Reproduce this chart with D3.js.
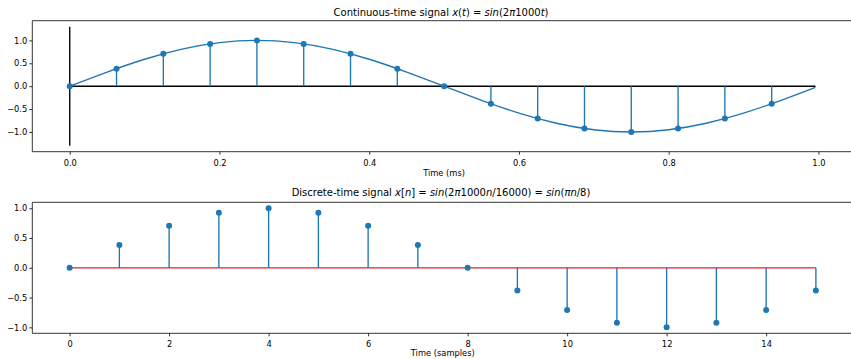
<!DOCTYPE html>
<html><head><meta charset="utf-8">
<script src="https://cdn.jsdelivr.net/npm/d3@7"></script>
<style>
body{margin:0;background:#fff;}
text{font-family:"DejaVu Sans",sans-serif;}
</style></head>
<body><svg id="c" width="851" height="359"></svg>
<script>
// Continuous curve (time in ms, amplitude)
const curveT = [0,0.05,0.1,0.15,0.2,0.25,0.3,0.35,0.4,0.45,0.5,0.55,0.6,0.65,0.7,0.75,0.8,0.85,0.9,0.95,0.996];
const curveV = [0,0.309,0.588,0.809,0.951,1.0,0.951,0.809,0.588,0.309,0,-0.309,-0.588,-0.809,-0.951,-1.0,-0.951,-0.809,-0.588,-0.309,-0.025];
// Sampled points
const sampleN = [0,1,2,3,4,5,6,7,8,9,10,11,12,13,14,15];
const sampleT = [0,0.0625,0.125,0.1875,0.25,0.3125,0.375,0.4375,0.5,0.5625,0.625,0.6875,0.75,0.8125,0.875,0.9375];
const sampleV = [0,0.383,0.707,0.924,1.0,0.924,0.707,0.383,0,-0.383,-0.707,-0.924,-1.0,-0.924,-0.707,-0.383];
const topXTicks = [0,0.2,0.4,0.6,0.8,1.0];
const yTicks = [-1.0,-0.5,0.0,0.5,1.0];
const botXTicks = [0,2,4,6,8,10,12,14];
const vLineY = [-1.3,1.3];

const svg = d3.select("#c");
const blue = "#1f77b4";
const fs = "8.3px";
const lw = 1.35;
const mr = 3.0;

function frame(g, x0, y0, y1){
  g.append("line").attr("x1",x0).attr("x2",900).attr("y1",y0).attr("y2",y0).attr("stroke","#000").attr("stroke-width",0.8);
  g.append("line").attr("x1",x0).attr("x2",900).attr("y1",y1).attr("y2",y1).attr("stroke","#000").attr("stroke-width",0.8);
  g.append("line").attr("x1",x0).attr("x2",x0).attr("y1",y0).attr("y2",y1).attr("stroke","#000").attr("stroke-width",0.8);
}
function styleAxis(a){
  a.select(".domain").remove();
  a.selectAll(".tick line").attr("stroke","#000").attr("stroke-width",0.8);
  a.selectAll(".tick text").attr("fill","#000").style("font-size",fs).style("font-family","DejaVu Sans");
}

// ---------- Top panel ----------
const x1 = d3.scaleLinear().domain([-0.05,1.05]).range([32.3,855.9]);
const y1 = d3.scaleLinear().domain([-1.43,1.43]).range([151.7,20.7]);
const g1 = svg.append("g");
g1.append("line").attr("x1",x1(0)).attr("x2",x1(0)).attr("y1",y1(vLineY[0])).attr("y2",y1(vLineY[1])).attr("stroke","#000").attr("stroke-width",lw);
g1.append("line").attr("x1",x1(0)).attr("x2",x1(curveT[curveT.length-1])).attr("y1",y1(0)).attr("y2",y1(0)).attr("stroke","#000").attr("stroke-width",lw);
g1.append("path").datum(curveT.map((t,i)=>[t,curveV[i]]))
  .attr("d",d3.line().x(d=>x1(d[0])).y(d=>y1(d[1])).curve(d3.curveNatural))
  .attr("fill","none").attr("stroke",blue).attr("stroke-width",lw);
g1.selectAll(".st").data(sampleT).enter().append("line")
  .attr("x1",d=>x1(d)).attr("x2",d=>x1(d)).attr("y1",y1(0)).attr("y2",(d,i)=>y1(sampleV[i]))
  .attr("stroke",blue).attr("stroke-width",lw);
g1.selectAll(".mk").data(sampleT).enter().append("circle")
  .attr("cx",d=>x1(d)).attr("cy",(d,i)=>y1(sampleV[i])).attr("r",mr).attr("fill",blue);
frame(g1,32.3,20.7,151.7);
const ax1 = g1.append("g").attr("transform","translate(0,151.7)")
  .call(d3.axisBottom(x1).tickValues(topXTicks).tickFormat(d3.format(".1f")).tickSize(3).tickPadding(5));
styleAxis(ax1);
const ay1 = g1.append("g").attr("transform","translate(32.3,0)")
  .call(d3.axisLeft(y1).tickValues(yTicks).tickFormat(d3.format(".1f")).tickSize(3).tickPadding(2));
styleAxis(ay1);
g1.append("text").attr("x",x1(0.5)).attr("y",176).attr("text-anchor","middle").style("font-size",fs).text("Time (ms)");
const t1 = g1.append("text").attr("x",441).attr("y",16).attr("text-anchor","middle").style("font-size","10px");
t1.append("tspan").text("Continuous-time signal ");
t1.append("tspan").style("font-style","italic").text("x");
t1.append("tspan").text("(");
t1.append("tspan").style("font-style","italic").text("t");
t1.append("tspan").text(") = ");
t1.append("tspan").style("font-style","italic").text("sin");
t1.append("tspan").text("(2");
t1.append("tspan").style("font-style","italic").text("π");
t1.append("tspan").text("1000");
t1.append("tspan").style("font-style","italic").text("t");
t1.append("tspan").text(")");

// ---------- Bottom panel ----------
const x2 = d3.scaleLinear().domain([-0.75,15.75]).range([32.3,853.2]);
const y2 = d3.scaleLinear().domain([-1.1,1.1]).range([333.3,202.3]);
const g2 = svg.append("g");
g2.selectAll(".st").data(sampleN).enter().append("line")
  .attr("x1",d=>x2(d)).attr("x2",d=>x2(d)).attr("y1",y2(0)).attr("y2",(d,i)=>y2(sampleV[i]))
  .attr("stroke",blue).attr("stroke-width",lw);
g2.append("line").attr("x1",x2(sampleN[0])).attr("x2",x2(sampleN[sampleN.length-1])).attr("y1",y2(0)).attr("y2",y2(0))
  .attr("stroke","#d62728").attr("stroke-width",lw);
g2.selectAll(".mk").data(sampleN).enter().append("circle")
  .attr("cx",d=>x2(d)).attr("cy",(d,i)=>y2(sampleV[i])).attr("r",mr).attr("fill",blue);
frame(g2,32.3,202.3,333.3);
const ax2 = g2.append("g").attr("transform","translate(0,333.3)")
  .call(d3.axisBottom(x2).tickValues(botXTicks).tickFormat(d3.format("d")).tickSize(3).tickPadding(5));
styleAxis(ax2);
const ay2 = g2.append("g").attr("transform","translate(32.3,0)")
  .call(d3.axisLeft(y2).tickValues(yTicks).tickFormat(d3.format(".1f")).tickSize(3).tickPadding(2));
styleAxis(ay2);
g2.append("text").attr("x",x2(7.5)).attr("y",356).attr("text-anchor","middle").style("font-size",fs).text("Time (samples)");
const t2 = g2.append("text").attr("x",441).attr("y",196).attr("text-anchor","middle").style("font-size","10px");
t2.append("tspan").text("Discrete-time signal ");
t2.append("tspan").style("font-style","italic").text("x");
t2.append("tspan").text("[");
t2.append("tspan").style("font-style","italic").text("n");
t2.append("tspan").text("] = ");
t2.append("tspan").style("font-style","italic").text("sin");
t2.append("tspan").text("(2");
t2.append("tspan").style("font-style","italic").text("π");
t2.append("tspan").text("1000");
t2.append("tspan").style("font-style","italic").text("n");
t2.append("tspan").text("/16000) = ");
t2.append("tspan").style("font-style","italic").text("sin");
t2.append("tspan").text("(");
t2.append("tspan").style("font-style","italic").text("πn");
t2.append("tspan").text("/8)");
</script></body></html>
